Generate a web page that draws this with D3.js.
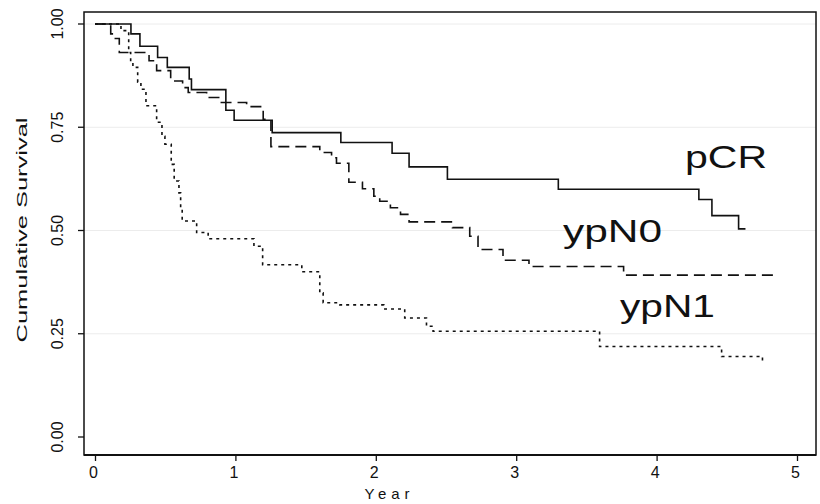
<!DOCTYPE html>
<html>
<head>
<meta charset="utf-8">
<script src="https://cdn.jsdelivr.net/npm/d3@7"></script>
<style>
  body { margin: 0; background: #fff; }
  text { font-family: "Liberation Sans", Arial, sans-serif; fill: #111; }
</style>
</head>
<body>
<div id="chart"></div>
<script>
// Kaplan-Meier curves (years, cumulative survival)
const pcr_years = [0, 0.256, 0.320, 0.446, 0.515, 0.671, 0.687, 0.932, 0.991, 1.262, 1.751, 2.116, 2.237, 2.510, 3.300, 4.301, 4.394, 4.584, 4.633];
const pcr_surv  = [1, 0.976, 0.946, 0.919, 0.895, 0.867, 0.841, 0.791, 0.767, 0.737, 0.713, 0.687, 0.654, 0.624, 0.600, 0.575, 0.536, 0.504, 0.504];

const ypn0_years = [0, 0.112, 0.137, 0.173, 0.385, 0.439, 0.539, 0.624, 0.664, 0.795, 0.900, 1.080, 1.198, 1.253, 1.601, 1.685, 1.720, 1.808, 1.905, 1.986, 2.028, 2.104, 2.176, 2.237, 2.546, 2.669, 2.728, 2.906, 3.091, 3.765, 4.840];
const ypn0_surv  = [1, 0.976, 0.965, 0.931, 0.911, 0.887, 0.862, 0.846, 0.834, 0.822, 0.810, 0.800, 0.769, 0.703, 0.689, 0.676, 0.663, 0.617, 0.601, 0.583, 0.571, 0.555, 0.539, 0.521, 0.507, 0.486, 0.454, 0.428, 0.413, 0.392, 0.392];

const ypn1_years = [0, 0.185, 0.240, 0.254, 0.270, 0.304, 0.327, 0.363, 0.439, 0.477, 0.498, 0.543, 0.564, 0.598, 0.610, 0.621, 0.724, 0.806, 1.132, 1.194, 1.473, 1.601, 1.625, 1.744, 2.057, 2.206, 2.361, 2.408, 3.594, 4.463, 4.754, 4.770];
const ypn1_surv  = [1, 0.984, 0.931, 0.908, 0.895, 0.859, 0.842, 0.802, 0.762, 0.728, 0.709, 0.660, 0.620, 0.591, 0.556, 0.523, 0.495, 0.480, 0.462, 0.417, 0.400, 0.349, 0.325, 0.320, 0.310, 0.288, 0.268, 0.256, 0.219, 0.195, 0.185, 0.185];

const group_names = ["pCR", "ypN0", "ypN1"];
const x_ticks = [0, 1, 2, 3, 4, 5];
const y_ticks = [0, 0.25, 0.5, 0.75, 1];

const box = { left: 84, top: 12, right: 816, bottom: 455 };

const x_scale = d3.scaleLinear().domain([0, 5]).range([95, 797]);
const y_scale = d3.scaleLinear().domain([0, 1]).range([437, 24]);

const svg = d3.select("#chart")
	.append("svg")
	.attr("width", 820)
	.attr("height", 504);

// faint reference lines
svg.append("g")
	.selectAll("line")
	.data(y_ticks.filter(d => d > 0))
	.join("line")
	.attr("x1", box.left).attr("x2", box.right)
	.attr("y1", d => y_scale(d)).attr("y2", d => y_scale(d))
	.attr("stroke", "#ececec")
	.attr("stroke-width", 1);

const x_axis = d3.axisBottom(x_scale).tickValues(x_ticks).tickFormat(d3.format("d")).tickSize(6).tickSizeOuter(0);
const y_axis = d3.axisLeft(y_scale).tickValues(y_ticks).tickFormat(d3.format(".2f")).tickSize(6).tickSizeOuter(0);

const gx = svg.append("g")
	.attr("transform", "translate(0," + box.bottom + ")")
	.call(x_axis);
gx.select(".domain").remove();
gx.selectAll("line").attr("stroke", "#111").attr("stroke-width", 1.3);
gx.selectAll("text").attr("font-size", 16).attr("dy", "0.9em").attr("dx", -2);

const gy = svg.append("g")
	.attr("transform", "translate(" + box.left + ",0)")
	.call(y_axis);
gy.select(".domain").remove();
gy.selectAll("line").attr("stroke", "#111").attr("stroke-width", 1.3);
gy.selectAll("text")
	.attr("font-size", 16)
	.attr("x", null).attr("dy", null)
	.attr("text-anchor", "middle")
	.attr("transform", d => "translate(-21," + y_scale(d) + ") rotate(-90)")
	.attr("y", 0);
gy.selectAll(".tick").attr("transform", null);
gy.selectAll(".tick line").attr("transform", d => "translate(0," + y_scale(d) + ")");

// frame
svg.append("rect")
	.attr("x", box.left).attr("y", box.top)
	.attr("width", box.right - box.left).attr("height", box.bottom - box.top)
	.attr("fill", "none")
	.attr("stroke", "#111")
	.attr("stroke-width", 1.5);
svg.append("line")
	.attr("x1", box.left).attr("x2", box.right)
	.attr("y1", box.bottom).attr("y2", box.bottom)
	.attr("stroke", "#111").attr("stroke-width", 2.2);

const line = d3.line()
	.x(d => x_scale(d[0]))
	.y(d => y_scale(d[1]))
	.curve(d3.curveStepAfter);

const curves = [
	{ name: group_names[0], pts: d3.zip(pcr_years, pcr_surv), dash: null },
	{ name: group_names[1], pts: d3.zip(ypn0_years, ypn0_surv), dash: "11,6" },
	{ name: group_names[2], pts: d3.zip(ypn1_years, ypn1_surv), dash: "3,4" }
];

svg.append("g")
	.selectAll("path")
	.data(curves)
	.join("path")
	.attr("d", d => line(d.pts))
	.attr("fill", "none")
	.attr("stroke", "#111")
	.attr("stroke-width", 1.6)
	.attr("stroke-dasharray", d => d.dash);

// curve labels (the original is stretched sideways)
const label_pos = [[685, 168, 82], [563, 242, 99], [620, 317, 95]];
svg.append("g")
	.selectAll("text")
	.data(group_names)
	.join("text")
	.attr("x", (d, i) => label_pos[i][0])
	.attr("y", (d, i) => label_pos[i][1])
	.attr("textLength", (d, i) => label_pos[i][2])
	.attr("lengthAdjust", "spacingAndGlyphs")
	.attr("font-size", 32)
	.text(d => d);

// axis titles
svg.append("text")
	.attr("x", 387).attr("y", 499)
	.attr("text-anchor", "middle")
	.attr("font-size", 15)
	.attr("textLength", 45)
	.attr("lengthAdjust", "spacing")
	.text("Year");

svg.append("text")
	.attr("transform", "translate(27,230) rotate(-90)")
	.attr("text-anchor", "middle")
	.attr("font-size", 15)
	.attr("textLength", 225)
	.attr("lengthAdjust", "spacingAndGlyphs")
	.text("Cumulative Survival");
</script>
</body>
</html>
